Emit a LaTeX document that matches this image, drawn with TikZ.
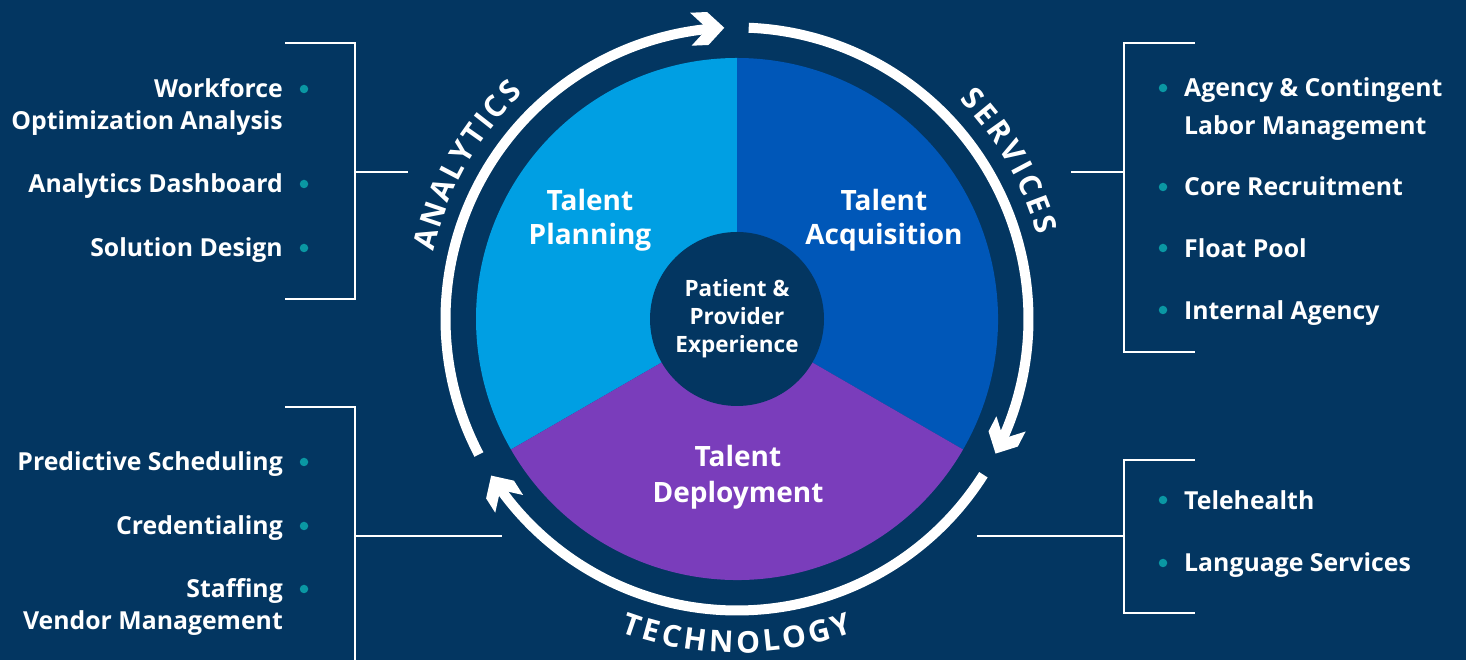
\documentclass[tikz,border=0pt]{standalone}
\usepackage{fontspec}
\setmainfont{Open Sans}
\usetikzlibrary{decorations.text}

\definecolor{navy}{HTML}{033661}
\definecolor{planblue}{HTML}{009FE3}
\definecolor{acqblue}{HTML}{0057B8}
\definecolor{deppurple}{HTML}{7A3DBB}
\definecolor{dotteal}{HTML}{0A97A3}

\newcommand\ringfont{\bfseries\fontsize{30}{30}\selectfont}

\begin{document}
\begin{tikzpicture}[x=1pt,y=1pt,
  itemtxt/.style={text=white, inner sep=0pt, font=\bfseries\fontsize{24.8}{30}\selectfont},
  itemL/.style={itemtxt, anchor=base east},
  itemR/.style={itemtxt, anchor=base west},
  segtxt/.style={text=white, inner sep=0pt, anchor=base, font=\bfseries\fontsize{28}{30}\selectfont},
  hubtxt/.style={text=white, inner sep=0pt, anchor=base, font=\bfseries\fontsize{22.5}{26}\selectfont},
  dot/.style={circle, fill=dotteal, inner sep=0pt, minimum size=8.5pt},
  bracket/.style={draw=white, line width=2.2pt},
  ring/.style={draw=white, line width=10pt},
  ringtxt/.style={decorate, decoration={text along path, text color=white, text align={fit to path}}}
]
% background
\fill[navy] (0,0) rectangle (1466,660);
\useasboundingbox (0,0) rectangle (1466,660);

\begin{scope}[shift={(737,341)}]
  % three segments of the wheel
  \fill[planblue] (0,0) -- (90:261) arc[start angle=90, end angle=210, radius=261] -- cycle;
  \fill[acqblue] (0,0) -- (-30:261) arc[start angle=-30, end angle=90, radius=261] -- cycle;
  \fill[deppurple] (0,0) -- (210:261) arc[start angle=210, end angle=330, radius=261] -- cycle;
  % hub
  \fill[navy] (0,0) circle[radius=87];

  % clockwise ring, in three arcs
  \draw[ring] (207.7:291.5) arc[start angle=207.7, end angle=94.5, radius=291.5];
  \draw[ring] (87.7:291.5) arc[start angle=87.7, end angle=-25.5, radius=291.5];
  \draw[ring] (-32.3:291.5) arc[start angle=-32.3, end angle=-145.5, radius=291.5];

  % chevron heads, tip on the ring, pointing clockwise
  \foreach \a in {92.5,-27.5,212.5}{
    \fill[white, shift={(\a:291.5)}, rotate=\a-90]
      (0,0) -- (-16.5,16.5) -- (-33.5,16.5) -- (-17,0) -- (-33.5,-16.5) -- (-16.5,-16.5) -- cycle;
  }

  % ring captions
  \path[ringtxt, decoration={text={|\ringfont|ANALYTICS}}]
    (167.5:311) arc[start angle=167.5, end angle=133.5, radius=311];
  \path[ringtxt, decoration={text={|\ringfont|SERVICES}}]
    (44.6:312) arc[start angle=44.6, end angle=15.6, radius=312];
  \path[ringtxt, decoration={text={|\ringfont|TECHNOLOGY}}]
    (249.6:334) arc[start angle=249.6, end angle=290.4, radius=334];
\end{scope}

% segment labels
\node[segtxt] (plan1) at (590,449) {Talent};
\node[segtxt] (plan2) at (590,415) {Planning};
\node[segtxt] (acq1) at (884,449) {Talent};
\node[segtxt] (acq2) at (884,415) {Acquisition};
\node[segtxt] (dep1) at (738,193) {Talent};
\node[segtxt] (dep2) at (738,157.5) {Deployment};
\node[hubtxt] (hub1) at (737,363.3) {Patient \&};
\node[hubtxt] (hub2) at (737,335) {Provider};
\node[hubtxt] (hub3) at (737,307.3) {Experience};

% analytics list
\draw[bracket] (285,617) -- (355,617) -- (355,361) -- (285,361);
\draw[bracket] (355,488) -- (408,488);
\node[itemL] (an1a) at (283,562) {Workforce};
\node[itemL] (an1b) at (283,530) {Optimization Analysis};
\node[itemL] (an2) at (283,467) {Analytics Dashboard};
\node[itemL] (an3) at (283,403) {Solution Design};
\node[dot] (dan1) at (304,571) {};
\node[dot] (dan2) at (304,476) {};
\node[dot] (dan3) at (304,412) {};

% technology list
\draw[bracket] (285,253) -- (355,253) -- (355,0);
\draw[bracket] (355,124) -- (502,124);
\node[itemL] (te1) at (283,189) {Predictive Scheduling};
\node[itemL] (te2) at (283,125) {Credentialing};
\node[itemL] (te3a) at (283,62) {Staffing};
\node[itemL] (te3b) at (283,30) {Vendor Management};
\node[dot] (dte1) at (304,198) {};
\node[dot] (dte2) at (304,134) {};
\node[dot] (dte3) at (304,71) {};

% services list
\draw[bracket] (1195,617) -- (1124,617) -- (1124,308) -- (1195,308);
\draw[bracket] (1071,488) -- (1124,488);
\node[itemR] (se1a) at (1184,563) {Agency \& Contingent};
\node[itemR] (se1b) at (1184,525) {Labor Management};
\node[itemR] (se2) at (1184,464) {Core Recruitment};
\node[itemR] (se3) at (1184,402.5) {Float Pool};
\node[itemR] (se4) at (1184,340.5) {Internal Agency};
\node[dot] (dse1) at (1163,572) {};
\node[dot] (dse2) at (1163,473) {};
\node[dot] (dse3) at (1163,412) {};
\node[dot] (dse4) at (1163,350) {};

% further services list
\draw[bracket] (1195,200) -- (1124,200) -- (1124,47) -- (1195,47);
\draw[bracket] (977,124) -- (1124,124);
\node[itemR] (ot1) at (1184,150) {Telehealth};
\node[itemR] (ot2) at (1184,88) {Language Services};
\node[dot] (dot1) at (1163,160) {};
\node[dot] (dot2) at (1163,97) {};
\end{tikzpicture}
\end{document}
